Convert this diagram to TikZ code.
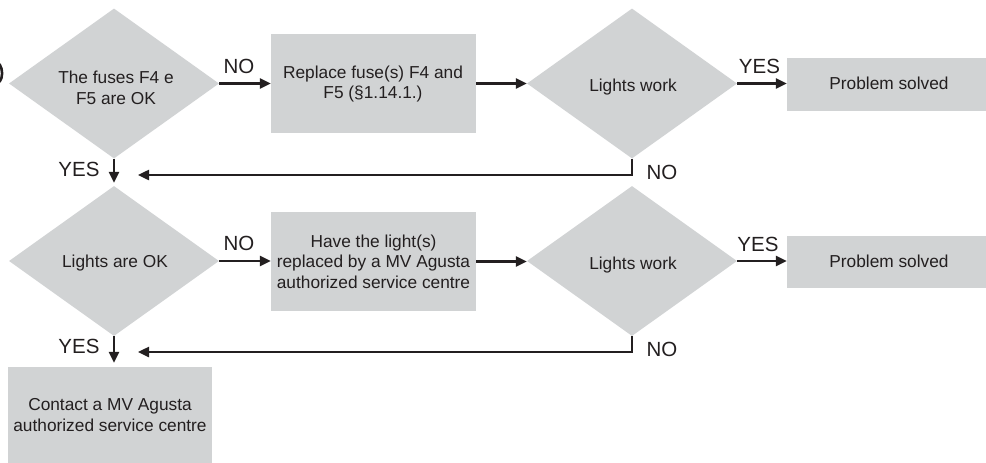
\documentclass[tikz,border=0pt]{standalone}
\usepackage{fontspec}
\setmainfont{Liberation Sans}
\usetikzlibrary{shapes.geometric,arrows.meta}
\definecolor{boxgray}{HTML}{D1D3D4}
\definecolor{ink}{HTML}{231F20}
\tikzset{
  dia/.style={diamond, fill=boxgray, draw=none, inner sep=0pt, minimum width=210pt, minimum height=150pt},
  rbox/.style={rectangle, fill=boxgray, draw=none, inner sep=0pt},
  txt/.style={text=ink, align=center, inner sep=0pt, font=\fontsize{17.3}{20.5}\selectfont},
  lab/.style={text=ink, inner sep=0pt, font=\fontsize{20.5}{22}\selectfont},
  conn/.style={draw=ink, line width=2.4pt, -{Triangle[length=11pt,width=10pt]}},
  plain/.style={draw=ink, line width=2.4pt}
}
\begin{document}
\begin{tikzpicture}[x=1pt,y=-1pt]
\useasboundingbox (0,0) rectangle (986,463);
% row 1
\node[dia] (d1) at (114,83.5) {};
\node[txt] (d1t) at (116,88) {The fuses F4 e\\F5 are OK};
\node[rbox, minimum width=205pt, minimum height=99pt] (b1) at (373.5,83.5) {};
\node[txt] (b1t) at (373,84) {Replace fuse(s) F4 and\\F5 (§1.14.1.)};
\node[dia] (d2) at (632,83.5) {};
\node[txt] (d2t) at (633,87) {Lights work};
\node[rbox, minimum width=199pt, minimum height=53pt] (p1) at (886.5,84.5) {};
\node[txt] (p1t) at (889,83.5) {Problem solved};
% row 2
\node[dia] (d3) at (114,261) {};
\node[txt] (d3t) at (115,263) {Lights are OK};
\node[rbox, minimum width=205pt, minimum height=99pt] (b2) at (373.5,261.5) {};
\node[txt] (b2t) at (373.5,261.5) {Have the light(s)\\replaced by a MV Agusta\\authorized service centre};
\node[dia] (d4) at (632,261) {};
\node[txt] (d4t) at (633,265) {Lights work};
\node[rbox, minimum width=199pt, minimum height=52pt] (p2) at (886.5,262) {};
\node[txt] (p2t) at (889,261.5) {Problem solved};
% row 3
\node[rbox, minimum width=204pt, minimum height=96pt] (b3) at (110,415) {};
\node[txt] (b3t) at (110,415) {Contact a MV Agusta\\authorized service centre};
% connectors row 1
\draw[conn] (d1.east) -- (d1.east -| b1.west);
\node[lab] (n1) at (239,66.5) {NO};
\draw[conn] (b1.east) -- (b1.east -| d2.west);
\draw[conn] (d2.east) -- (d2.east -| p1.west);
\node[lab] (y1) at (759.5,66) {YES};
\coordinate (f1) at (138,175);
\draw[conn] (d2.south) -- (d2.south |- f1) -- (f1);
\node[lab] (n2) at (662,172) {NO};
\draw[conn, shorten >=3pt] (d1.south) -- (d1.south |- d3.north);
\node[lab] (y2) at (79,169.5) {YES};
% connectors row 2
\draw[conn] (d3.east) -- (d3.east -| b2.west);
\node[lab] (n3) at (239,243.5) {NO};
\draw[conn] (b2.east) -- (b2.east -| d4.west);
\draw[conn] (d4.east) -- (d4.east -| p2.west);
\node[lab] (y3) at (758,244.5) {YES};
\coordinate (f2) at (138,352);
\draw[conn] (d4.south) -- (d4.south |- f2) -- (f2);
\node[lab] (n4) at (662,349.5) {NO};
\draw[conn, shorten >=4pt] (d3.south) -- (d3.south |- b3.north);
\node[lab] (y4) at (79,346.5) {YES};
% clipped glyph fragment at left edge
\draw[ink, line width=2.6pt] (-0.5,64) .. controls (3,70) and (3,77) .. (-0.5,82);
\end{tikzpicture}
\end{document}
